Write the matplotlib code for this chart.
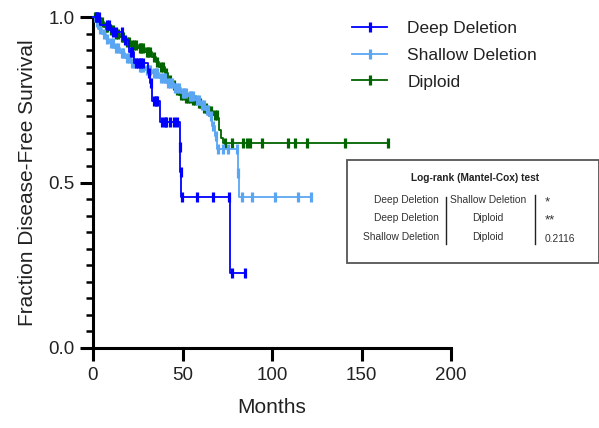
import numpy as np
import matplotlib
matplotlib.use("Agg")
import matplotlib.pyplot as plt
from matplotlib.lines import Line2D
from matplotlib.patches import Rectangle

plt.rcParams['font.family'] = ['Liberation Sans', 'DejaVu Sans']

# ---------------- data ----------------
groups = ["Deep Deletion", "Shallow Deletion", "Diploid"]
colors = ["#0000ff", "#5aa6f2", "#006400"]

deep_t = [0, 4, 10, 17, 20, 23, 31, 32, 33, 37.5, 48.5, 48.8, 49.1, 76.5]
deep_s = [1.0, 0.975, 0.955, 0.93, 0.895, 0.86, 0.83, 0.80, 0.745, 0.683, 0.607, 0.532, 0.456, 0.228]
deep_c = [1.5, 2.5, 3.5, 8, 9, 11, 13, 16, 18, 21, 22, 24, 25, 26, 27, 28, 31.5, 32.5,
          34, 35, 36, 38.5, 40, 41, 43, 45, 47, 48.65, 48.95, 49.7, 58, 67, 76, 77.6, 85]

shallow_t = [0, 1, 3, 5, 7, 9, 12, 15, 18, 21, 25, 29, 33, 37, 41, 45, 49, 53, 57, 60,
             62.5, 65, 66.5, 68, 69.5, 81, 81.4]
shallow_s = [1.0, 0.985, 0.965, 0.95, 0.935, 0.92, 0.905, 0.89, 0.875, 0.86, 0.85, 0.84,
             0.83, 0.815, 0.80, 0.785, 0.77, 0.76, 0.75, 0.735, 0.72, 0.70, 0.67, 0.64,
             0.60, 0.53, 0.455]
shallow_c = [2, 4, 6, 8, 10, 11, 13, 14, 16, 17, 19, 20, 22, 23, 24, 26, 27, 28, 30, 31,
             32, 34, 35, 36, 38, 39, 40, 42, 43, 44, 46, 47, 48, 50, 51, 52, 54, 55, 56,
             58, 59, 61, 62, 63.5, 64, 66, 67, 68.5, 70, 72.6, 75.4, 80.4, 81.2, 83, 88.6,
             101.7, 114.5, 122]

diploid_t = [0, 3, 6, 9, 12, 15, 18, 21, 25, 29, 33, 35, 37, 40, 42, 44, 46, 48, 51, 55,
             58, 61, 64, 67, 69.5, 70.5, 71.5, 72.5]
diploid_s = [1.0, 0.985, 0.97, 0.96, 0.95, 0.94, 0.925, 0.915, 0.905, 0.895, 0.88, 0.865,
             0.85, 0.83, 0.81, 0.795, 0.78, 0.765, 0.755, 0.75, 0.74, 0.725, 0.715, 0.705,
             0.695, 0.66, 0.635, 0.62]
diploid_c = [1, 2, 4, 5, 7, 8, 10, 11, 13, 14, 16, 17, 19, 20, 22, 23, 24, 26, 27, 28, 30,
             31, 32, 34, 36, 38, 39, 41, 43, 45, 47, 49, 50, 52, 53, 54, 56, 57, 59, 60, 62,
             63, 65, 66, 68, 69, 73.7, 77.7, 83.8, 86, 87.7, 94.4, 109, 112.8, 119.5,
             140.8, 164.8]

x_ticks = [0, 50, 100, 150, 200]
y_ticks = [0.0, 0.5, 1.0]
y_minor = [i * 0.05 for i in range(21)]

table_title = "Log-rank (Mantel-Cox) test"
table_col1 = ["Deep Deletion", "Deep Deletion", "Shallow Deletion"]
table_col2 = ["Shallow Deletion", "Diploid", "Diploid"]
table_col3 = ["*", "**", "0.2116"]

# ---------------- figure ----------------
W, H = 599, 428
fig = plt.figure(figsize=(W / 100, H / 100), dpi=100)
ax = fig.add_axes([93 / W, 1 - 348 / H, 358 / W, 331 / H])


def fx(px):
    return px / W


def fy(py):
    return 1 - py / H


series = [(diploid_t, diploid_s, diploid_c, colors[2], 2),
          (shallow_t, shallow_s, shallow_c, colors[1], 3),
          (deep_t, deep_s, deep_c, colors[0], 4)]

for t, s, c, col, z in series:
    t = np.asarray(t, float)
    s = np.asarray(s, float)
    c = np.asarray(c, float)
    tt = np.append(t, c.max())
    ss = np.append(s, s[-1])
    ax.step(tt, ss, where='post', color=col, lw=1.3, zorder=z, clip_on=False)
    idx = np.searchsorted(t, c, side='right') - 1
    ax.plot(c, s[idx], ls='none', marker='|', ms=7.5, mew=2.3, color=col,
            zorder=z, clip_on=False)

ax.set_xlim(0, 200)
ax.set_ylim(0, 1.0)
ax.set_xticks(x_ticks)
ax.set_xticklabels([str(v) for v in x_ticks])
ax.set_yticks(y_ticks)
ax.set_yticklabels([f"{v:.1f}" for v in y_ticks])
ax.set_yticks(y_minor, minor=True)
for side in ['top', 'right']:
    ax.spines[side].set_visible(False)
for side in ['left', 'bottom']:
    ax.spines[side].set_linewidth(2.2)
    ax.spines[side].set_color('black')
ax.tick_params(axis='both', which='major', length=9.5, width=2.2, direction='out',
               labelsize=13.5, labelcolor='#222222', pad=4)
ax.tick_params(axis='y', which='minor', length=5, width=1.8, direction='out')
ax.set_xlabel("Months", fontsize=15, color='#222222', labelpad=10)
ax.set_ylabel("Fraction Disease-Free Survival", fontsize=15, color='#222222', labelpad=8)

# legend
handles = [Line2D([], [], color=colors[i], lw=1.3, marker='|', ms=7.5, mew=2.3)
           for i in range(3)]
leg = fig.legend(handles, groups, loc='upper left',
                 bbox_to_anchor=(fx(349), fy(17)), frameon=False,
                 fontsize=12.5, handlelength=2.0, handletextpad=1.15,
                 labelspacing=0.68, borderaxespad=0, borderpad=0.2)
for txt in leg.get_texts():
    txt.set_color('#222222')

# statistics table
fig.patches.append(Rectangle((fx(347), fy(263)), fx(599) - fx(347), fy(160) - fy(263),
                             transform=fig.transFigure, fill=False,
                             edgecolor='#555555', lw=1.3))
fig.text(fx(475), fy(178), table_title, fontsize=7.3, fontweight='bold',
         ha='center', va='center', color='#222222')
row_y = [200, 218, 237]
for i in range(3):
    fig.text(fx(439), fy(row_y[i]), table_col1[i], fontsize=7.4, ha='right',
             va='center', color='#333333')
    fig.text(fx(488), fy(row_y[i]), table_col2[i], fontsize=7.4, ha='center',
             va='center', color='#333333')
    yy = row_y[i] + (2 if i == 2 else 0) + (2 if i < 2 else 0)
    fig.text(fx(545), fy(yy), table_col3[i], fontsize=7.4 if i == 2 else 9.5,
             ha='left', va='center', color='#333333')
fig.add_artist(Line2D([fx(446), fx(446)], [fy(197), fy(244)], color='#222222',
                      lw=1.0, transform=fig.transFigure))
fig.add_artist(Line2D([fx(535), fx(535)], [fy(195), fy(244)], color='#222222',
                      lw=1.0, transform=fig.transFigure))

fig.savefig("out.png", dpi=100)
